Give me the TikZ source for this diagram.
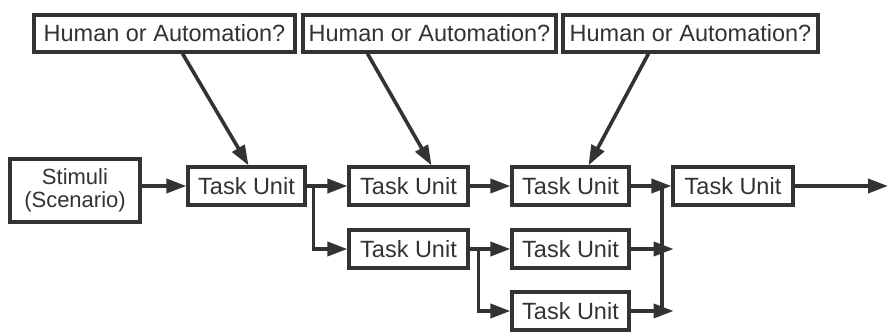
\documentclass[tikz,border=0pt]{standalone}
\usepackage{fontspec}
\setmainfont{Liberation Sans}
\usetikzlibrary{arrows.meta}
\definecolor{ink}{HTML}{333333}
\begin{document}
\begin{tikzpicture}[x=1pt,y=-1pt,
  box/.style={draw=ink,line width=3.2pt,fill=white,inner sep=0pt,text=ink,
    font=\fontsize{23.5}{23}\selectfont,align=center},
  tbox/.style={box,minimum width=117pt,minimum height=38pt},
  hbox/.style={box,minimum height=37pt},
  conn/.style={draw=ink,line width=3.6pt},
  arr/.style={conn,-{Triangle[length=20pt,width=14pt]}}]
\useasboundingbox[fill=white] (0,0) rectangle (892,336);
\node[hbox,minimum width=261pt] (h1) at (164.5,33.5) {Human or Automation?};
\node[hbox,minimum width=253pt] (h2) at (429.5,33.5) {Human or Automation?};
\node[hbox,minimum width=255pt] (h3) at (690.5,33.5) {Human or Automation?};
\node[box,minimum width=130pt,minimum height=63pt,font=\fontsize{22}{23}\selectfont] (s) at (75,190.5) {Stimuli\\(Scenario)};
\node[tbox] (t1) at (246.5,186) {Task Unit};
\node[tbox,minimum width=119pt] (t2) at (408.5,186) {Task Unit};
\node[tbox] (t3) at (570.5,186) {Task Unit};
\node[tbox,minimum width=120pt] (t4) at (733,186) {Task Unit};
\node[tbox,minimum width=119pt] (m2) at (408.5,249) {Task Unit};
\node[tbox] (m3) at (570.5,249) {Task Unit};
\node[tbox] (b3) at (570.5,311) {Task Unit};
% diagonal arrows
\draw[arr] ([xshift=18pt]h1.south) -- ([xshift=2pt]t1.north);
\draw[arr] ([xshift=-62pt]h2.south) -- ([xshift=23pt]t2.north);
\draw[arr] ([xshift=-42pt]h3.south) -- ([xshift=18pt]t3.north);
% main flow
\draw[arr] (s.east |- t1.west) -- (t1.west);
\coordinate (b1) at ([xshift=7pt]t1.east);
\draw[conn] (t1.east) -- (b1);
\draw[arr] (b1) -- (t2.west);
\draw[arr] (b1) |- (m2.west);
\draw[arr] (t2.east) -- (t3.west);
\coordinate (b2) at ([xshift=9pt]m2.east);
\draw[conn] (m2.east) -- (b2);
\draw[arr] (b2) -- (m3.west);
\draw[arr] (b2) |- (b3.west);
% merge
\coordinate (mx) at (662,186);
\draw[arr] (t3.east) -- (t4.west);
\draw[conn] (mx) -- (mx |- b3.east);
\draw[arr] (m3.east) -- ([xshift=43pt]m3.east);
\draw[arr] (b3.east) -- ([xshift=43pt]b3.east);
\coordinate (out) at (888,186);
\draw[arr] (t4.east) -- (out);
\end{tikzpicture}
\end{document}
